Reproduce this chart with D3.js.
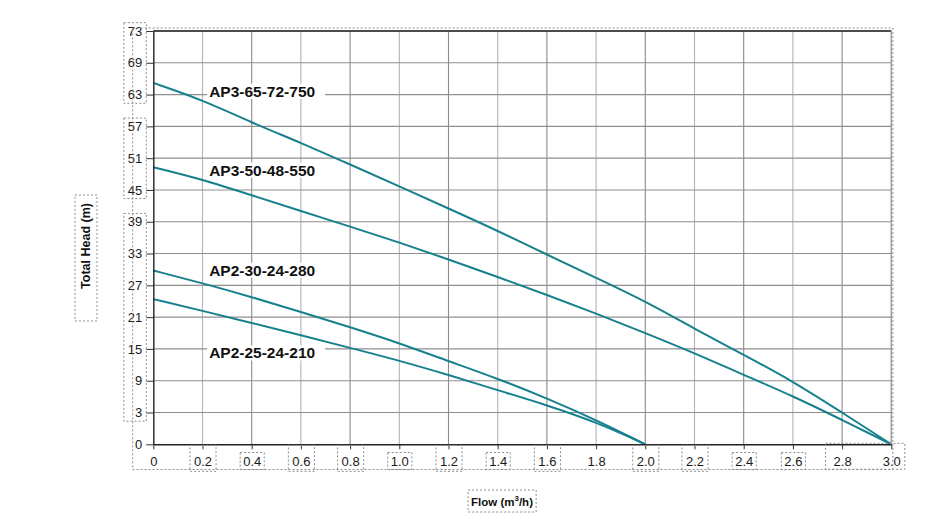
<!DOCTYPE html>
<html><head><meta charset="utf-8">
<script src="https://cdn.jsdelivr.net/npm/d3@7/dist/d3.min.js"></script>
<style>
body{margin:0;background:#fff;}
svg{display:block;font-family:"Liberation Sans",Arial,Helvetica,sans-serif;}
</style>
</head><body>
<svg id="chart" width="940" height="523"></svg>
<script>
// ---- data ----
const flowLong  = [0,0.2,0.4,0.6,0.8,1.0,1.2,1.4,1.6,1.8,2.0,2.2,2.4,2.6,2.8,3.0];
const flowShort = [0,0.2,0.4,0.6,0.8,1.0,1.2,1.4,1.6,1.8,2.0];
const seriesNames = ["AP3-65-72-750","AP3-50-48-550","AP2-30-24-280","AP2-25-24-210"];
const headAP3_65 = [65.2,62.0,57.7,53.9,49.8,45.7,41.5,37.3,32.8,28.4,24.0,18.8,13.9,8.9,3.0,0];
const headAP3_50 = [49.3,47.0,44.0,41.0,38.1,35.1,31.9,28.6,25.2,21.7,18.0,14.2,10.1,6.1,2.3,0];
const headAP2_30 = [29.8,27.4,24.8,22.0,19.1,16.1,12.7,9.4,5.7,2.3,0];
const headAP2_25 = [24.4,22.2,19.9,17.6,15.2,12.8,10.1,7.2,4.4,2.1,0];
const headTicks = [0,3,9,15,21,27,33,39,45,51,57,63,69,73];
const flowTicks = [0,0.2,0.4,0.6,0.8,1.0,1.2,1.4,1.6,1.8,2.0,2.2,2.4,2.6,2.8,3.0];
const labelFlow = 0.227;
const labelHead = [62.6,47.7,28.8,13.2];
const xTitle = "Flow (m";
const yTitle = "Total Head (m)";

// ---- layout ----
const svg = d3.select("#chart");
const L = 153.3, R = 891.3, T = 31, B = 444.3;
const x = d3.scaleLinear().domain([0,3]).range([L,R]);
const step = (B - T) / (headTicks.length - 1);
const y = d3.scaleLinear().domain(headTicks).range(headTicks.map((d,i)=> B - i*step));

const series = [
  {name:seriesNames[0], xs:flowLong,  ys:headAP3_65},
  {name:seriesNames[1], xs:flowLong,  ys:headAP3_50},
  {name:seriesNames[2], xs:flowShort, ys:headAP2_30},
  {name:seriesNames[3], xs:flowShort, ys:headAP2_25}
];

// gridlines
const grid = svg.append("g");
grid.selectAll("line.v").data(flowTicks.slice(1)).join("line")
  .attr("x1",d=>x(d)).attr("x2",d=>x(d)).attr("y1",T).attr("y2",B)
  .attr("stroke",(d,i)=> i%2 ? "#8a8a8a" : "#b4b4b4").attr("stroke-width",1.1);
grid.selectAll("line.h").data(headTicks.slice(1)).join("line")
  .attr("x1",L).attr("x2",R).attr("y1",d=>y(d)).attr("y2",d=>y(d))
  .attr("stroke","#8f8f8f").attr("stroke-width",1.1);
// top border
svg.append("line").attr("x1",L).attr("x2",R).attr("y1",T).attr("y2",T)
  .attr("stroke","#222").attr("stroke-width",1.6);

// labels with white background
const labG = svg.append("g");
series.forEach((s,i)=>{
  const t = labG.append("text").attr("x",x(labelFlow)).attr("y",y(labelHead[i]))
    .attr("font-size","15.5px").attr("font-weight","bold").attr("fill","#111").text(s.name);
  const bb = t.node().getBBox();
  labG.insert("rect","text").attr("x",bb.x-2).attr("y",bb.y+1).attr("width",bb.width+12).attr("height",bb.height-2)
    .attr("fill","#fff");
});

// curves
const line = d3.line().x(d=>x(d[0])).y(d=>y(d[1])).curve(d3.curveBasis);
svg.append("g").selectAll("path").data(series).join("path")
  .attr("d", s=> line(s.xs.map((v,i)=>[v,s.ys[i]])))
  .attr("fill","none").attr("stroke","#17808e").attr("stroke-width",2);

// axes
const fmt = d=> d===0 ? "0" : d3.format(".1f")(d);
const xAxis = svg.append("g").attr("transform",`translate(0,${B})`)
  .call(d3.axisBottom(x).tickValues(flowTicks).tickFormat(fmt).tickSize(5).tickPadding(7).tickSizeOuter(0));
const yAxis = svg.append("g").attr("transform",`translate(${L},0)`)
  .call(d3.axisLeft(y).tickValues(headTicks).tickFormat(d3.format("d")).tickSize(7).tickPadding(4).tickSizeOuter(0));
[xAxis,yAxis].forEach(a=>{
  a.select(".domain").attr("stroke","#222").attr("stroke-width",1.4);
  a.selectAll(".tick line").attr("stroke","#333");
  a.selectAll(".tick text").attr("font-size","13px").attr("fill","#1a1a1a")
    .attr("font-family","'Liberation Sans',Arial,sans-serif");
});
svg.append("line").attr("x1",R).attr("x2",R).attr("y1",T).attr("y2",B).attr("stroke","#9a9a9a").attr("stroke-width",1.2);

// axis titles
const yt = svg.append("text").attr("transform","translate(90,246) rotate(-90)")
  .attr("text-anchor","middle").attr("font-size","12.5px").attr("font-weight","bold").attr("fill","#111").text(yTitle);
const xt = svg.append("text").attr("x",502).attr("y",506).attr("text-anchor","middle")
  .attr("font-size","11.5px").attr("font-weight","bold").attr("fill","#111");
xt.append("tspan").text(xTitle);
xt.append("tspan").attr("dy","-5").attr("font-size","8px").text("3");
xt.append("tspan").attr("dy","5").text("/h)");

// dotted guide boxes (derived from text bounding boxes)
const boxes = svg.append("g").attr("fill","none").attr("stroke","#8c8c8c").attr("stroke-width",1).attr("stroke-dasharray","2,2");
function bbox(nodes){
  let x0=1e9,y0=1e9,x1=-1e9,y1=-1e9;
  nodes.forEach(n=>{const r=n.getBoundingClientRect();x0=Math.min(x0,r.left);y0=Math.min(y0,r.top);x1=Math.max(x1,r.right);y1=Math.max(y1,r.bottom);});
  return {x0,y0,x1,y1};
}
function rect(b,px,py){boxes.append("rect").attr("x",b.x0-px).attr("y",b.y0-py).attr("width",b.x1-b.x0+2*px).attr("height",b.y1-b.y0+2*py);}
const yLabels = yAxis.selectAll(".tick text").nodes();
const xLabels = xAxis.selectAll(".tick text").nodes();
const lastX = bbox([xLabels[xLabels.length-1]]);
boxes.append("rect").attr("x",L-20.6).attr("y",T-3).attr("width",lastX.x1-8-(L-20.6)).attr("height",lastX.y1+1-(T-3));
const ypick = vals=> yLabels.filter((n,i)=> vals.includes(headTicks[i]));
[[73,69,63],[57,51,45],[39,33,27,21,15,9,3]].forEach(g=>{
  const b = bbox(ypick(g)); b.x0=Math.min(b.x0,b.x1-14); rect(b,4,1);
});
const tall = [0.2,0.6,0.8,1.2,1.6,2.0,2.2], tight=[0.4,1.0,1.4,2.4,2.6];
xLabels.forEach((n,i)=>{
  const v = flowTicks[i]; const b = bbox([n]);
  if (tall.some(t=>Math.abs(t-v)<1e-6)) { boxes.append("rect").attr("x",b.x0-4).attr("y",B+1).attr("width",b.x1-b.x0+8).attr("height",26); }
  else if (tight.some(t=>Math.abs(t-v)<1e-6)) { rect(b,3,1); }
});
const b28 = bbox([xLabels[14],xLabels[15]]);
boxes.append("rect").attr("x",b28.x0-8).attr("y",B-1).attr("width",b28.x1-b28.x0+12).attr("height",26);
const byt = bbox([yt.node()]);
boxes.append("rect").attr("x",byt.x0-4).attr("y",byt.y0-8).attr("width",byt.x1-byt.x0+8).attr("height",byt.y1-byt.y0+40);
const bxt = bbox([xt.node()]);
rect(bxt,3,4);
</script>
</body></html>
